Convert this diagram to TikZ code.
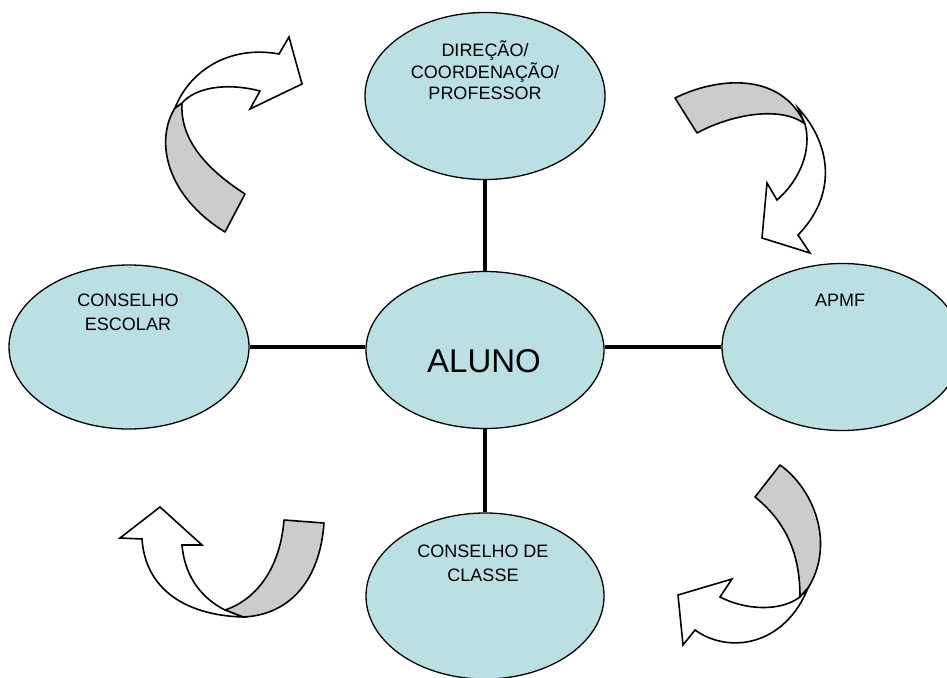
\documentclass[tikz,border=0pt]{standalone}
\usepackage{fontspec}
\setmainfont{Liberation Sans}
\usetikzlibrary{shapes.geometric}
\definecolor{ellfill}{HTML}{BBE0E3}
\definecolor{bandgray}{HTML}{CCCCCC}
\tikzset{
  ell/.style={ellipse, draw=black, line width=1.3pt, fill=ellfill, inner sep=0pt},
  lbl/.style={anchor=base, align=center, inner sep=0pt, font=\fontsize{18}{24}\selectfont},
  link/.style={line width=4.5pt, draw=black},
  grayband/.style={draw=black, line width=1.6pt, fill=bandgray, line join=round},
  whiteband/.style={draw=black, line width=1.6pt, fill=white, line join=miter}
}
\begin{document}
\begin{tikzpicture}[x=1pt,y=-1pt]
\useasboundingbox (0,0) rectangle (947,677);
\clip (0,0) rectangle (947,677);
% ellipses
\node[ell, minimum width=240pt, minimum height=167pt] (top) at (485,96) {};
\node[ell, minimum width=240pt, minimum height=164pt] (left) at (129,347) {};
\node[ell, minimum width=240pt, minimum height=167pt] (right) at (842,347) {};
\node[ell, minimum width=238pt, minimum height=157pt] (center) at (485,350) {};
\node[ell, minimum width=238pt, minimum height=166pt] (bottom) at (485,596) {};
% connectors
\draw[link] (top.south) -- (center.north);
\draw[link] (left.east) -- (left.east -| center.west);
\draw[link] (center.east |- right.west) -- (right.west);
\draw[link] (center.south) -- (bottom.north);
% labels (anchor base = baseline of the last line)
\node[lbl, font=\fontsize{18}{21.7}\selectfont] (ttop) at (485,99.8) {DIREÇÃO/\\COORDENAÇÃO/\\PROFESSOR};
\node[lbl] (tleft) at (128,330.5) {CONSELHO\\ESCOLAR};
\node[lbl] (tright) at (840,306.5) {APMF};
\node[lbl] (tbottom) at (483,581.5) {CONSELHO DE\\CLASSE};
\node[lbl, font=\fontsize{33}{40}\selectfont] (tcenter) at (484,372) {ALUNO};
% arrow 1 (top-left)
\draw[grayband] (175,108) .. controls (155,140) and (165,195) .. (225,232)
  -- (245,194) .. controls (200,165) and (180,135) .. (182,103) -- cycle;
\draw[whiteband] (175,108) .. controls (190,70) and (230,45) .. (279,54)
  -- (289,37) -- (302,84) -- (250,109) -- (260,91)
  .. controls (225,82) and (195,88) .. (182,103) -- cycle;
% arrow 2 (top-right)
\draw[grayband] (675,98) .. controls (715,78) and (780,70) .. (805,124)
  .. controls (780,105) and (730,115) .. (697,133) -- cycle;
\draw[whiteband] (798,108) .. controls (832,145) and (837,195) .. (798,235)
  -- (810,253) -- (762,238) -- (767,183) -- (777,200)
  .. controls (800,180) and (812,150) .. (805,124) -- cycle;
% arrow 3 (bottom-left)
\draw[grayband] (284,520) -- (324,523) .. controls (320,580) and (290,615) .. (243,617)
  -- (225,610) .. controls (255,600) and (280,570) .. (284,520) -- cycle;
\draw[whiteband] (142,539) -- (120,538) -- (160,507) -- (202,545) -- (182,545)
  .. controls (185,580) and (205,600) .. (225,610) -- (243,617)
  .. controls (180,615) and (145,585) .. (142,539) -- cycle;
% arrow 4 (bottom-right)
\draw[grayband] (780,465) .. controls (815,490) and (835,545) .. (808,588)
  -- (800,597) .. controls (800,560) and (790,525) .. (755,497) -- cycle;
\draw[whiteband] (720,597) -- (732,579) -- (678,595) -- (683,645) -- (695,630)
  .. controls (730,655) and (785,645) .. (808,588) -- (800,597)
  .. controls (780,612) and (745,610) .. (720,597) -- cycle;
\end{tikzpicture}
\end{document}
